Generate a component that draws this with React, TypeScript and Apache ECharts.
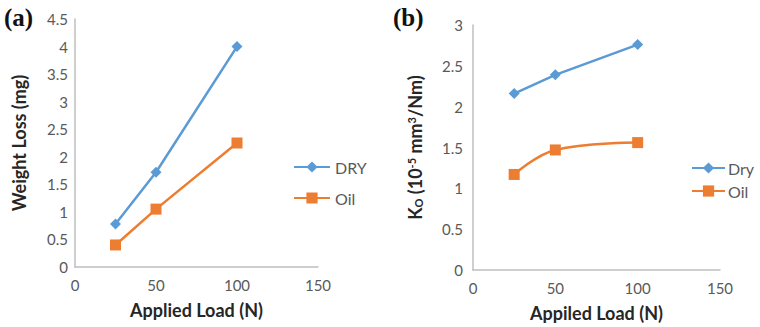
import React, { useEffect, useRef } from "react";
import * as echarts from "echarts";

const loads = [25, 50, 100];
const weightLossDry = [0.78, 1.72, 4.0];
const weightLossOil = [0.4, 1.05, 2.25];
const kDry = [2.16, 2.39, 2.76];
const kOil = [1.17, 1.47, 1.56];

const BLUE = "#5B9BD5";
const ORANGE = "#ED7D31";
const GRAY = "#595959";
const AXIS = "#BFBFBF";
const FONT = "Lato";

export default function App() {
  const ref = useRef<HTMLDivElement>(null);
  useEffect(() => {
    if (!ref.current) return;
    const chart = echarts.init(ref.current, undefined, { renderer: "svg" });
    const titleStyle = { fontFamily: FONT, fontWeight: "bold" as const, fontSize: 18, color: "#262626" };
    const xAxisCommon = {
      type: "value" as const,
      min: 0,
      max: 150,
      interval: 50,
      axisLine: { show: true, lineStyle: { color: AXIS, width: 1.5 } },
      axisTick: { show: false },
      splitLine: { show: false },
      nameLocation: "middle" as const,
      nameGap: 34,
      nameTextStyle: titleStyle,
    };
    const yAxisCommon = {
      type: "value" as const,
      min: 0,
      interval: 0.5,
      axisLine: { show: true, lineStyle: { color: AXIS, width: 1.5 } },
      axisTick: { show: false },
      splitLine: { show: false },
      nameLocation: "middle" as const,
      nameRotate: 90,
    };
    const tickStyle = { color: GRAY, fontFamily: FONT, fontSize: 15 };
    chart.setOption({
      animation: false,
      backgroundColor: "#fff",
      grid: [
        { left: 75, top: 19, width: 243, height: 248 },
        { left: 473, top: 25, width: 247, height: 246 },
      ],
      xAxis: [
        {
          ...xAxisCommon,
          gridIndex: 0,
          name: "Applied Load (N)",
          axisLabel: { ...tickStyle, margin: 10 },
        },
        {
          ...xAxisCommon,
          gridIndex: 1,
          name: "Appiled Load (N)",
          axisLabel: { ...tickStyle, margin: 10 },
        },
      ],
      yAxis: [
        {
          ...yAxisCommon,
          gridIndex: 0,
          max: 4.5,
          name: "Weight Loss (mg)",
          nameGap: 47,
          nameTextStyle: titleStyle,
          axisLabel: { ...tickStyle, margin: 7 },
        },
        {
          ...yAxisCommon,
          gridIndex: 1,
          max: 3,
          name: "K{sub|O} (10{sup|-5} mm{sup|3}/Nm)",
          nameGap: 49,
          nameTextStyle: {
            ...titleStyle,
            rich: {
              sub: { fontFamily: FONT, fontWeight: "bold", fontSize: 11, color: "#262626", verticalAlign: "bottom", padding: [7, 0, 0, 0] },
              sup: { fontFamily: FONT, fontWeight: "bold", fontSize: 11, color: "#262626", verticalAlign: "top", padding: [0, 0, 7, 0] },
            },
          },
          axisLabel: { ...tickStyle, margin: 10 },
        },
      ],
      legend: [
        {
          data: ["DRY", "Oil"],
          orient: "vertical",
          left: 288,
          top: 154,
          itemGap: 15,
          itemWidth: 36,
          itemHeight: 14,
          textStyle: { color: GRAY, fontFamily: FONT, fontSize: 16 },
        },
        {
          data: ["Dry", "Oil"],
          orient: "vertical",
          left: 686,
          top: 155,
          itemGap: 7,
          itemWidth: 33,
          itemHeight: 14,
          itemStyle: {},
          textStyle: { color: GRAY, fontFamily: FONT, fontSize: 16, padding: [0, 0, 0, -2] },
        },
      ],
      series: [
        {
          name: "DRY",
          type: "line",
          xAxisIndex: 0,
          yAxisIndex: 0,
          data: loads.map((x, i) => [x, weightLossDry[i]]),
          symbol: "diamond",
          symbolSize: 11,
          lineStyle: { color: BLUE, width: 2.5 },
          itemStyle: { color: BLUE },
        },
        {
          name: "Oil",
          type: "line",
          xAxisIndex: 0,
          yAxisIndex: 0,
          data: loads.map((x, i) => [x, weightLossOil[i]]),
          symbol: "rect",
          symbolSize: 11,
          lineStyle: { color: ORANGE, width: 2.5 },
          itemStyle: { color: ORANGE },
        },
        {
          name: "Dry",
          type: "line",
          xAxisIndex: 1,
          yAxisIndex: 1,
          data: loads.map((x, i) => [x, kDry[i]]),
          symbol: "diamond",
          symbolSize: 11,
          lineStyle: { color: BLUE, width: 2.5 },
          itemStyle: { color: BLUE },
        },
        {
          name: "Oil",
          type: "line",
          xAxisIndex: 1,
          yAxisIndex: 1,
          data: loads.map((x, i) => [x, kOil[i]]),
          smooth: 0.4,
          symbol: "rect",
          symbolSize: 11,
          lineStyle: { color: ORANGE, width: 2.5 },
          itemStyle: { color: ORANGE },
        },
      ],
      graphic: [
        {
          type: "text",
          left: 4,
          top: 5,
          style: { text: "(a)", fontFamily: "Liberation Serif", fontWeight: "bold", fontSize: 25, fill: "#111" },
        },
        {
          type: "text",
          left: 393,
          top: 5,
          style: { text: "(b)", fontFamily: "Liberation Serif", fontWeight: "bold", fontSize: 25, fill: "#111" },
        },
      ],
    });
    return () => chart.dispose();
  }, []);
  return (
    <div
      ref={ref}
      style={{ position: "fixed", left: 0, top: 0, width: 760, height: 327 }}
    />
  );
}
